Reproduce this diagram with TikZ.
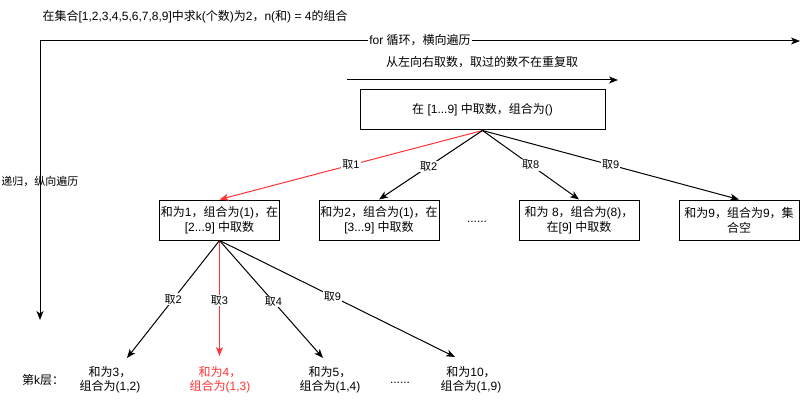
\documentclass[tikz,border=0pt]{standalone}
\usepackage{fontspec}
\setmainfont{Liberation Sans}
\newfontfamily\cjk{Noto Sans CJK SC}
\usetikzlibrary{arrows.meta}
\newcommand\zh[1]{{\cjk #1}}
\definecolor{redline}{HTML}{FF3333}
\begin{document}
\begin{tikzpicture}[x=1pt,y=-1pt,line width=1pt,
  box/.style={draw,rectangle,minimum width=120pt,minimum height=40pt,align=center,inner sep=1pt,font=\fontsize{12}{15}\selectfont},
  arr/.style={-{Stealth[length=9pt,width=7pt,inset=2.5pt]}},
  lbl/.style={fill=white,inner sep=1pt,font=\fontsize{11}{13}\selectfont},
  txt/.style={align=center,inner sep=0pt,font=\fontsize{12}{14}\selectfont}]
\useasboundingbox (0,0) rectangle (808,401);

% title
\node[txt,anchor=west] (title) at (42,17) {\zh{在集合}[1,2,3,4,5,6,7,8,9]\zh{中求}k(\zh{个数})\zh{为}2\zh{，}n(\zh{和}) = 4\zh{的组合}};

% big axes
\coordinate (tl) at (40,41);
\coordinate (tr) at (800,41);
\coordinate (bl) at (40,320);
\draw[{Stealth[length=9pt,width=7pt,inset=2.5pt]}-{Stealth[length=9pt,width=7pt,inset=2.5pt]}] (bl) -- (tl) -- (tr);
\node[lbl,font=\fontsize{12}{14}\selectfont] (forlbl) at (420,40) {for \zh{循环，横向遍历}};
\node[txt,font=\fontsize{11}{13}\selectfont] (reclbl) at (40,181) {\zh{递归，纵向遍历}};

% left-to-right arrow
\node[txt] (ltr) at (482,62) {\zh{从左向右取数，取过的数不在重复取}};
\coordinate (la) at (347,80);
\coordinate (lb) at (618,80);
\draw[arr] (la) -- (lb);

% root
\node[box,minimum width=245pt] (root) at (482.5,110) {\zh{在} [1...9] \zh{中取数，组合为}()};

% level 1
\node[box] (b1) at (219.5,220) {\zh{和为}1\zh{，组合为}(1)\zh{，在}\\{}[2...9] \zh{中取数}};
\node[box] (b2) at (379,220) {\zh{和为}2\zh{，组合为}(1)\zh{，在}\\{}[3...9] \zh{中取数}};
\node[txt] (dots1) at (477,222) {......};
\node[box] (b3) at (579,220) {\zh{和为} 8\zh{，组合为}(8)\zh{，}\\\zh{在}[9] \zh{中取数}};
\node[box] (b4) at (739,220) {\zh{和为}9\zh{，组合为}9\zh{，集}\\\zh{合空}};

\draw[arr,redline] (root.south) -- node[lbl,text=black] {\zh{取}1} (b1.north);
\draw[arr] (root.south) -- node[lbl,pos=0.52] {\zh{取}2} (b2.north);
\draw[arr] (root.south) -- node[lbl] {\zh{取}8} (b3.north);
\draw[arr] (root.south) -- node[lbl] {\zh{取}9} (b4.north);

% level 2
\node[txt] (k) at (43,380) {\zh{第}k\zh{层：}};
\node[txt] (c1) at (110,380) {\zh{和为}3\zh{，}\\\zh{组合为}(1,2)};
\node[txt,text=redline] (c2) at (220,380) {\zh{和为}4\zh{，}\\\zh{组合为}(1,3)};
\node[txt] (c3) at (330,380) {\zh{和为}5\zh{，}\\\zh{组合为}(1,4)};
\node[txt] (dots2) at (400,383) {......};
\node[txt] (c4) at (471,380) {\zh{和为}10\zh{，}\\\zh{组合为}(1,9)};

\coordinate (e1) at (127,358);
\coordinate (e2) at (219.5,356);
\coordinate (e3) at (323,358);
\coordinate (e4) at (455,357);
\draw[arr] (b1.south) -- node[lbl] {\zh{取}2} (e1);
\draw[arr,redline] (b1.south) -- node[lbl,text=black,pos=0.52] {\zh{取}3} (e2);
\draw[arr] (b1.south) -- node[lbl,pos=0.52] {\zh{取}4} (e3);
\draw[arr] (b1.south) -- node[lbl,pos=0.48] {\zh{取}9} (e4);
\end{tikzpicture}
\end{document}
